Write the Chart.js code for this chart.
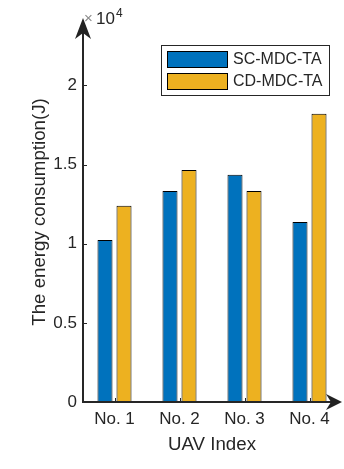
<!DOCTYPE html>
<html>
<head>
<meta charset="utf-8">
<script src="https://cdn.jsdelivr.net/npm/chart.js@4.4.1/dist/chart.umd.min.js"></script>
<style>
    html, body { margin: 0; padding: 0; background: #fff; }
    #wrap { width: 344px; height: 469px; }
</style>
</head>
<body>
<div id="wrap"><canvas id="mainChart" width="344" height="469"></canvas></div>
<script>
const uavs = ['No. 1', 'No. 2', 'No. 3', 'No. 4'];
const scMdcTa = [10230, 13330, 14350, 11370];
const cdMdcTa = [12390, 14660, 13330, 18210];
const yTicks = [0, 5000, 10000, 15000, 20000];
const seriesNames = ['SC-MDC-TA', 'CD-MDC-TA'];
const colors = {
    'SC-MDC-TA': '#0072BD',
    'CD-MDC-TA': '#EDB120'
};

const textColor = '#262626';
const fontFamily = "'Liberation Sans', Arial, Helvetica, sans-serif";

// axes with arrows, inward ticks, exponent label and boxed legend (matlab look)
const matlabAxes = {
    id: 'matlabAxes',
    afterDatasetsDraw(chart) {
        const ctx = chart.ctx;
        const xs = chart.scales.x;
        const ys = chart.scales.y;
        const area = chart.chartArea;
        const x0 = area.left + 1;
        const y0 = ys.getPixelForValue(0);
        ctx.save();
        ctx.strokeStyle = textColor;
        ctx.fillStyle = textColor;

        // inward tick marks
        ctx.lineWidth = 1;
        yTicks.forEach(v => {
            const p = Math.round(ys.getPixelForValue(v)) + 0.5;
            ctx.beginPath();
            ctx.moveTo(x0, p);
            ctx.lineTo(x0 + 4, p);
            ctx.stroke();
        });
        uavs.forEach((c, i) => {
            const p = Math.round(xs.getPixelForValue(i)) + 0.5;
            ctx.beginPath();
            ctx.moveTo(p, y0);
            ctx.lineTo(p, y0 - 4);
            ctx.stroke();
        });

        // axis lines
        ctx.lineWidth = 2;
        ctx.beginPath();
        ctx.moveTo(x0, y0 + 1);
        ctx.lineTo(x0, 32);
        ctx.moveTo(x0 - 1, y0);
        ctx.lineTo(area.right - 10, y0);
        ctx.stroke();

        // arrow heads
        ctx.fillStyle = '#222';
        ctx.beginPath();
        ctx.moveTo(x0, 18);
        ctx.lineTo(x0 + 8, 39);
        ctx.lineTo(x0, 33);
        ctx.lineTo(x0 - 8, 39);
        ctx.closePath();
        ctx.fill();
        ctx.beginPath();
        ctx.moveTo(area.right, y0);
        ctx.lineTo(area.right - 16, y0 + 8);
        ctx.lineTo(area.right - 11, y0);
        ctx.lineTo(area.right - 16, y0 - 8);
        ctx.closePath();
        ctx.fill();

        // x10^4
        ctx.textBaseline = 'alphabetic';
        ctx.textAlign = 'left';
        ctx.fillStyle = '#8a8a8a';
        ctx.font = '15px ' + fontFamily;
        ctx.fillText('\u00d7', 84, 23);
        ctx.fillStyle = textColor;
        ctx.font = '17px ' + fontFamily;
        ctx.fillText('10', 96, 24);
        ctx.font = '12px ' + fontFamily;
        ctx.fillText('4', 116, 17);

        // legend
        ctx.fillStyle = '#fff';
        ctx.fillRect(161.5, 45.5, 168, 50);
        ctx.lineWidth = 1;
        ctx.strokeStyle = textColor;
        ctx.strokeRect(161.5, 45.5, 168, 50);
        ctx.font = '16px ' + fontFamily;
        ctx.textBaseline = 'middle';
        seriesNames.forEach((name, i) => {
            const top = 51 + i * 22;
            ctx.fillStyle = colors[name];
            ctx.fillRect(167, top, 61, 17);
            ctx.strokeStyle = '#000';
            ctx.strokeRect(167.5, top + 0.5, 60, 16);
            ctx.fillStyle = textColor;
            ctx.fillText(name, 233, top + 9);
        });
        ctx.restore();
    }
};

const ctxBar = document.getElementById('mainChart').getContext('2d');
const barChart = new Chart(ctxBar, {
    type: 'bar',
    data: {
        labels: uavs,
        datasets: [{
            label: seriesNames[0],
            data: scMdcTa,
            backgroundColor: colors['SC-MDC-TA'],
            borderColor: '#000',
            borderWidth: 1
        }, {
            label: seriesNames[1],
            data: cdMdcTa,
            backgroundColor: colors['CD-MDC-TA'],
            borderColor: '#000',
            borderWidth: 1
        }]
    },
    options: {
        responsive: false,
        animation: false,
        devicePixelRatio: 1,
        categoryPercentage: 0.585,
        barPercentage: 0.79,
        layout: {
            padding: { top: 22, right: 2, left: 0, bottom: 0 }
        },
        scales: {
            x: {
                grid: { display: false, drawTicks: false },
                border: { display: false },
                ticks: {
                    color: textColor,
                    padding: 7,
                    font: { family: fontFamily, size: 17 }
                },
                title: {
                    display: true,
                    text: 'UAV Index',
                    color: textColor,
                    padding: { top: 0, bottom: 13 },
                    font: { family: fontFamily, size: 18.7 }
                },
                afterFit(scale) { scale.height = 67; }
            },
            y: {
                min: 0,
                max: 24000,
                grid: { display: false, drawTicks: false },
                border: { display: false },
                afterBuildTicks(scale) {
                    scale.ticks = yTicks.map(v => ({ value: v }));
                },
                ticks: {
                    color: textColor,
                    padding: 5,
                    font: { family: fontFamily, size: 17 },
                    callback: v => String(v / 10000)
                },
                title: {
                    display: true,
                    text: 'The energy consumption(J)',
                    color: textColor,
                    padding: { top: 29, bottom: 0 },
                    font: { family: fontFamily, size: 18.7 }
                },
                afterFit(scale) { scale.width = 82; }
            }
        },
        plugins: {
            legend: { display: false },
            tooltip: { enabled: false }
        }
    },
    plugins: [matlabAxes]
});
</script>
</body>
</html>
